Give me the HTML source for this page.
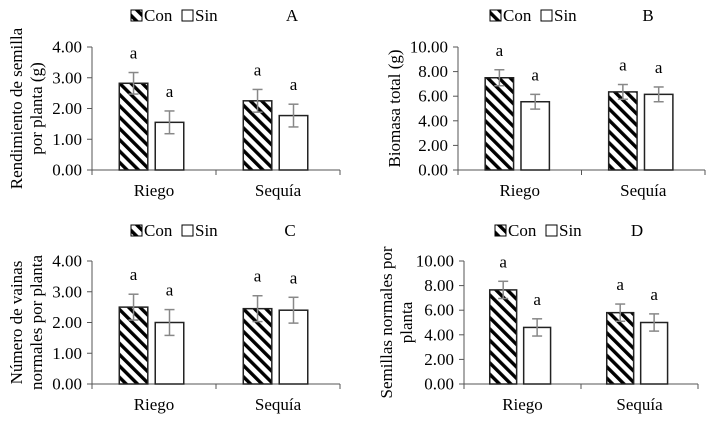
<!DOCTYPE html>
<html><head><meta charset="utf-8"><style>
body{margin:0;background:#fff;width:710px;height:418px;overflow:hidden}
svg, svg text, svg tspan{font-family:"Liberation Serif","DejaVu Serif",serif !important;fill:#000}
</style></head><body>
<svg id="c" width="710" height="418" font-family="Liberation Serif, serif">
<defs><pattern id="hatch" patternUnits="userSpaceOnUse" width="8" height="8" patternTransform="rotate(-45)">
<rect width="8" height="8" fill="#fff"/><rect width="3.4" height="8" fill="#000"/></pattern></defs>
</svg>
<script>
const categories=["Riego","Sequía"];
const series=["Con","Sin"];
const valuesA=[[2.82,1.55],[2.25,1.77]];
const errorsA=[[0.35,0.37],[0.37,0.37]];
const valuesB=[[7.5,5.55],[6.35,6.15]];
const errorsB=[[0.65,0.6],[0.6,0.6]];
const valuesC=[[2.5,2.0],[2.45,2.4]];
const errorsC=[[0.42,0.42],[0.42,0.42]];
const valuesD=[[7.65,4.6],[5.8,5.0]];
const errorsD=[[0.7,0.7],[0.7,0.7]];
const ticksA=["0.00","1.00","2.00","3.00","4.00"];
const ticksB=["0.00","2.00","4.00","6.00","8.00","10.00"];
const ticksC=["0.00","1.00","2.00","3.00","4.00"];
const ticksD=["0.00","2.00","4.00","6.00","8.00","10.00"];
const lettersA=[["a","a"],["a","a"]];
const lettersB=[["a","a"],["a","a"]];
const lettersC=[["a","a"],["a","a"]];
const lettersD=[["a","a"],["a","a"]];
const svg=document.getElementById('c');
const NS="http://www.w3.org/2000/svg";
function mk(tag,attrs,parent){const e=document.createElementNS(NS,tag);for(const k in attrs)e.setAttribute(k,attrs[k]);if(tag==='text')e.setAttribute('font-family','Liberation Serif, serif');(parent||svg).appendChild(e);return e;}
function panel(p){
 const g=mk('g',{});
 
 
 const max=p.ticks.length-1;const step=parseFloat(p.ticks[1]);
 const ymax=max*step;
 const y=v=>p.y0-(v/ymax)*(p.y0-p.y1);
 const w=p.x1-p.x0;const gw=w/categories.length;
 p.ticks.forEach((t,i)=>{const v=i*step;
  mk('line',{x1:p.x0-5,x2:p.x0,y1:y(v),y2:y(v),stroke:'#555'},g);
  const tx=mk('text',{x:p.x0-10,y:y(v)+5.5,'text-anchor':'end','font-size':17},g);tx.textContent=t;
  
  
 });
 const ax=mk('line',{x1:p.x0,x2:p.x0,y1:p.y1,y2:p.y0,stroke:'#555'},g);
 
 
 const xa=mk('line',{x1:p.x0,x2:p.x1,y1:p.y0,y2:p.y0,stroke:'#555'},g);
 
 
 for(let i=0;i<=categories.length;i++)mk('line',{x1:p.x0+i*gw,x2:p.x0+i*gw,y1:p.y0,y2:p.y0+5,stroke:'#555'},g);
 categories.forEach((c,ci)=>{
  const cx=p.x0+gw*(ci+0.5);
  const lb=mk('text',{x:cx,y:p.y0+26,'text-anchor':'middle','font-size':17},g);lb.textContent=c;
  
  
  series.forEach((s,si)=>{
   const bw=gw*0.23,gap=gw*0.06;
   const bx=cx-gap/2-bw+si*(bw+gap)-gw*0.02;
   const v=p.values[ci][si],e=p.errors[ci][si];
   const r=mk('rect',{x:bx,y:y(v),width:bw,height:p.y0-y(v),fill:si==0?'url(#hatch)':'#fff',stroke:'#222','stroke-width':1.5},g);
   
   
   const mx=bx+bw/2;
   mk('line',{x1:mx,x2:mx,y1:y(v+e),y2:y(v-e),stroke:'#888','stroke-width':1.5},g);
   mk('line',{x1:mx-5,x2:mx+5,y1:y(v+e),y2:y(v+e),stroke:'#888','stroke-width':1.5},g);
   mk('line',{x1:mx-5,x2:mx+5,y1:y(v-e),y2:y(v-e),stroke:'#888','stroke-width':1.5},g);
   const lt=mk('text',{x:mx,y:y(v+e)-14,'text-anchor':'middle','font-size':17},g);lt.textContent=p.letters[ci][si];
   
   
  });
 });
 const lx=p.lx,ly=p.ly;
 const l1=mk('rect',{x:lx,y:ly-11,width:11,height:11,fill:'url(#hatch)',stroke:'#000'},g);
 
 
 const t1=mk('text',{x:lx+13,y:ly,'font-size':17},g);t1.textContent='Con';
 
 
 const l2=mk('rect',{x:lx+51,y:ly-11,width:11,height:11,fill:'#fff',stroke:'#000'},g);
 
 
 const t2=mk('text',{x:lx+64,y:ly,'font-size':17},g);t2.textContent='Sin';
 
 
 const pl=mk('text',{x:p.px,y:ly,'text-anchor':'middle','font-size':17},g);pl.textContent=p.id;
 
 
 const yt=mk('text',{transform:`translate(${p.tx},${(p.y0+p.y1)/2}) rotate(-90)`,'text-anchor':'middle','font-size':17},g);
 
 
 p.title.forEach((l,i)=>{const ts=mk('tspan',{x:0,dy:i==0?(p.title.length==2?-2:6):20},yt);ts.textContent=l;});
}
panel({id:'A',x0:92,x1:340,y0:170,y1:47,ticks:ticksA,values:valuesA,errors:errorsA,letters:lettersA,lx:131,ly:21,px:292,tx:24,title:["Rendimiento de semilla","por planta (g)"]});
panel({id:'B',x0:458,x1:705,y0:170,y1:47,ticks:ticksB,values:valuesB,errors:errorsB,letters:lettersB,lx:490,ly:21,px:648,tx:394,title:["Biomasa total (g)"]});
panel({id:'C',x0:92,x1:340,y0:384,y1:261,ticks:ticksC,values:valuesC,errors:errorsC,letters:lettersC,lx:131,ly:236,px:290,tx:24,title:["Número de vainas","normales por planta"]});
panel({id:'D',x0:464,x1:698,y0:384,y1:261,ticks:ticksD,values:valuesD,errors:errorsD,letters:lettersD,lx:495,ly:236,px:637,tx:394,title:["Semillas normales por","planta"]});
</script>
</body></html>
